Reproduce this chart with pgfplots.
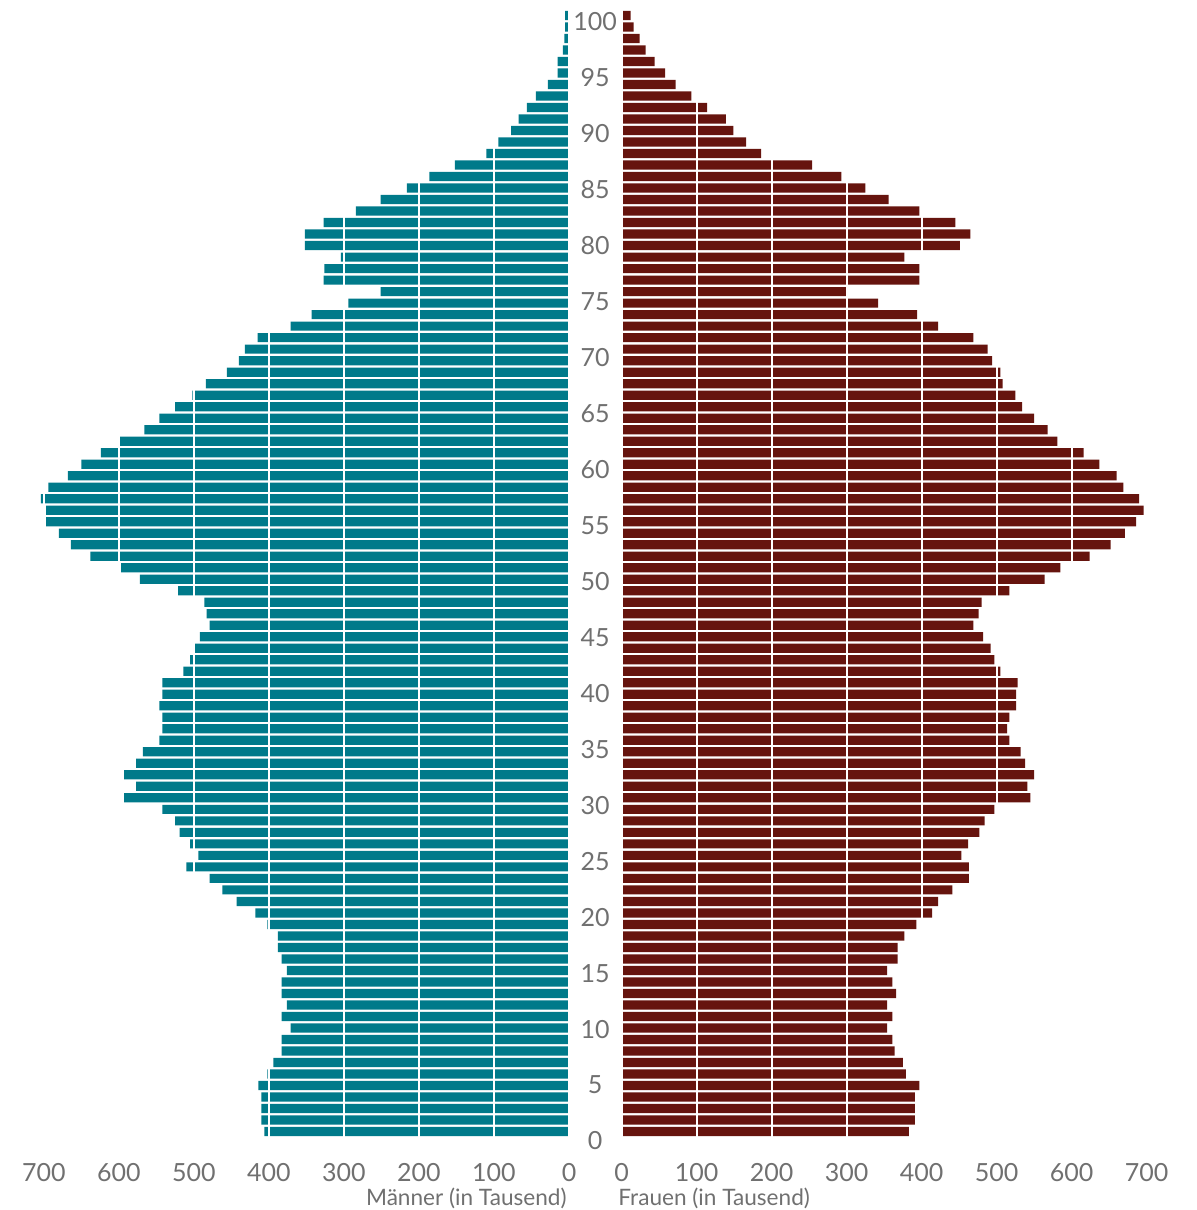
\documentclass[border=0pt]{standalone}
\usepackage{pgfplots}
\pgfplotsset{compat=1.18}
\usepackage{pgfplotstable}
\usepackage{fontspec}
\setmainfont{Lato}

\definecolor{maenner}{RGB}{0,122,138}
\definecolor{frauen}{RGB}{102,20,14}
\definecolor{txt}{RGB}{112,112,112}

% 98 Balken (pos 0 = unten), Werte in Tausend (m = Maenner, f = Frauen)
\pgfplotstableread{
pos m f
97 5 12
96 5 16
95 6 24
94 8 32
93 15 44
92 15 58
91 28 72
90 44 93
89 56 114
88 67 139
87 77 149
86 94 166
85 110 186
84 152 254
83 186 293
82 216 325
81 251 356
80 284 397
79 327 445
78 352 465
77 352 451
76 304 377
75 326 397
74 327 397
73 251 300
72 294 342
71 343 394
70 371 422
69 415 469
68 432 488
67 440 494
66 456 505
65 484 508
64 502 525
63 525 534
62 546 550
61 566 568
60 599 581
59 624 616
58 650 637
57 668 660
56 694 669
55 704 690
54 697 696
53 697 686
52 680 671
51 664 652
50 638 624
49 597 585
48 572 564
47 521 517
46 486 480
45 483 476
44 479 469
43 492 482
42 501 492
41 505 497
40 514 505
39 542 528
38 542 526
37 546 526
36 542 517
35 542 514
34 546 517
33 568 532
32 577 538
31 593 550
30 577 541
29 593 545
28 542 497
27 525 484
26 519 477
25 505 462
24 494 453
23 510 463
22 479 463
21 462 441
20 443 422
19 418 414
18 402 393
17 388 377
16 388 368
15 383 368
14 376 354
13 383 361
12 383 366
11 376 354
10 383 361
9 371 354
8 383 361
7 383 364
6 394 375
5 402 379
4 414 397
3 410 391
2 410 391
1 410 391
0 406 383
}\pyr

\pgfplotsset{pyr/.style={
  scale only axis, width=262.5pt, height=566.05pt,
  xmin=0, xmax=700, ymin=-0.9, ymax=97.5,
  axis on top, clip=false,
  axis line style={draw=none}, major tick length=0pt,
  xtick={0,100,...,700},
  xmajorgrids, major grid style={white, line width=1pt},
  tick label style={font=\fontsize{12.5}{14}\selectfont, text=txt},
  xticklabel style={yshift=-7.2pt},
  label style={font=\fontsize{11.3}{13}\selectfont, text=txt, inner sep=0pt},
  /pgf/number format/assume math mode=true,
}}

\begin{document}
\begin{tikzpicture}
\path[use as bounding box] (0,0) rectangle (598.5pt,605pt);

% Maenner, links
\begin{axis}[pyr, at={(22pt,34.07pt)}, anchor=south west,
  x dir=reverse, ytick=\empty,
  xlabel={Männer (in Tausend)},
  xlabel style={at={(axis description cs:1,0)}, anchor=base east, xshift=-1pt, yshift=-31.9pt}]
\addplot[xbar, bar width=0.8, bar shift=0pt, fill=maenner, draw=none]
  table[x=m, y=pos]{\pyr};
\end{axis}

% Frauen, rechts; Altersbeschriftung in der Mitte
\begin{axis}[pyr, at={(310.75pt,34.07pt)}, anchor=south west,
  ytick={-0.826,4.037,8.900,13.763,18.626,23.489,28.352,33.215,38.078,42.941,
    47.804,52.667,57.530,62.393,67.256,72.119,76.982,81.845,86.708,91.571,96.434},
  yticklabels={0,5,10,15,20,25,30,35,40,45,50,55,60,65,70,75,80,85,90,95,100},
  yticklabel style={anchor=center, xshift=-13.25pt},
  xlabel={Frauen (in Tausend)},
  xlabel style={at={(axis description cs:0,0)}, anchor=base west, xshift=-1.75pt, yshift=-31.9pt}]
\addplot[xbar, bar width=0.8, bar shift=0pt, fill=frauen, draw=none]
  table[x=f, y=pos]{\pyr};
\end{axis}
\end{tikzpicture}
\end{document}
